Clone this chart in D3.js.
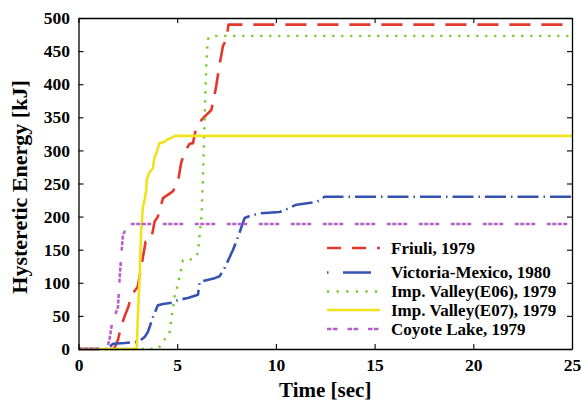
<!DOCTYPE html>
<html>
<head>
<meta charset="utf-8">
<script src="https://cdn.jsdelivr.net/npm/d3@7"></script>
<style>
  html, body { margin: 0; padding: 0; background: #fff; }
  svg { display: block; }
</style>
</head>
<body>
<svg id="chart" width="582" height="403"></svg>
<script>
// Cumulative hysteretic energy histories (time in s, energy in kJ)
const seriesNames = [
  "Friuli, 1979",
  "Victoria-Mexico, 1980",
  "Imp. Valley(E06), 1979",
  "Imp. Valley(E07), 1979",
  "Coyote Lake, 1979"
];

const friuliT = [0, 1.8, 2.0, 2.16, 2.33, 2.53, 2.67, 3.0, 3.09, 3.4, 3.68, 3.85, 4.02, 4.28, 4.78, 5.04, 5.2, 5.38, 5.63, 5.8, 5.96, 6.14, 6.39, 6.73, 6.9, 6.98, 7.15, 7.32, 7.49, 7.6, 25];
const friuliE = [0, 0, 14, 34, 49, 64, 81, 94, 109, 162, 165, 192, 200, 228, 238, 253, 281, 298, 310, 311, 334, 343, 351, 361, 385, 398, 430, 458, 467, 490, 490];

const victoriaT = [0, 1.45, 1.75, 2.35, 3.05, 3.35, 3.52, 3.6, 3.77, 3.85, 4.02, 4.28, 4.78, 5.04, 5.54, 6.05, 6.14, 6.47, 6.9, 7.15, 7.4, 7.66, 7.83, 8.08, 8.25, 8.42, 8.67, 9.18, 10.19, 10.45, 11.04, 12.05, 12.47, 25];
const victoriaE = [0, 0, 8, 9, 11, 18, 26, 33, 48, 54, 66, 68, 70, 74, 77, 82, 101, 104, 107, 110, 122, 139, 150, 169, 184, 198, 201, 205, 207, 210, 218, 222, 230, 230];

const e06T = [0, 4.0, 4.1, 4.44, 4.61, 4.74, 4.87, 5.12, 5.29, 5.54, 5.88, 6.05, 6.14, 6.22, 6.3, 6.39, 6.47, 6.55, 6.75, 25];
const e06E = [0, 0, 3, 18, 24, 54, 79, 109, 134, 134, 137, 145, 175, 195, 255, 350, 426, 468, 473, 473];

const e07T = [0, 2.95, 3.0, 3.09, 3.17, 3.26, 3.35, 3.43, 3.46, 3.57, 3.77, 3.85, 3.97, 4.1, 4.36, 4.48, 4.78, 4.9, 25];
const e07E = [0, 0, 44, 104, 175, 214, 225, 240, 255, 266, 273, 290, 298, 311, 313, 316, 320, 322, 322];

const coyoteT = [0, 1.4, 1.49, 1.57, 1.7, 2.0, 2.08, 2.16, 2.25, 2.33, 2.41, 25];
const coyoteE = [0, 0, 6, 14, 39, 63, 104, 139, 172, 177, 189, 189];

const xTicks = [0, 5, 10, 15, 20, 25];
const yTicks = [0, 50, 100, 150, 200, 250, 300, 350, 400, 450, 500];

// Line styles per series (plot dashes and the shorter legend sample dashes)
const styles = [
  { color: "#e5382c", width: 2.6, dash: "21,11", legendDash: "14,11" },
  { color: "#3552b2", width: 2.6, dash: "21,5,1.5,5", legendDash: "1.5,14.5,28,20" },
  { color: "#6dcc24", width: 2.4, dash: "2.2,6.8", legendDash: "2.2,7.4" },
  { color: "#f0e21c", width: 2.6, dash: null, legendDash: null },
  { color: "#b85ccb", width: 2.5, dash: "4,1.5,4,1.5,4,1.5,4,11.5", legendDash: "4.5,1.5,4.5,10" }
];

const series = [
  [friuliT, friuliE],
  [victoriaT, victoriaE],
  [e06T, e06E],
  [e07T, e07E],
  [coyoteT, coyoteE]
].map(([t, e], i) => ({ name: seriesNames[i], points: t.map((v, j) => [v, e[j]]), style: styles[i] }));

const FONT = '"Liberation Serif", Tinos, "Times New Roman"';
function serifBold(sel, size) {
  sel.style("font-family", FONT).style("font-weight", "bold").style("font-size", size + "px").attr("fill", "#000");
}

const svg = d3.select("#chart");
const plotLeft = 78.5, plotRight = 572, plotTop = 18, plotBottom = 349;

const x = d3.scaleLinear().domain([0, 25]).range([plotLeft, plotRight]);
const y = d3.scaleLinear().domain([0, 500]).range([plotBottom, plotTop]);

const line = d3.line().x(d => x(d[0])).y(d => y(d[1]));

// Data lines
const plot = svg.append("g");
series.forEach(s => {
  plot.append("path")
    .datum(s.points)
    .attr("d", line)
    .attr("fill", "none")
    .attr("stroke", s.style.color)
    .attr("stroke-width", s.style.width)
    .attr("stroke-dasharray", s.style.dash)
    .attr("stroke-linejoin", "round");
});

// Axes with inward ticks on all four sides
const tickLen = 5;
function styleAxis(g) {
  g.select(".domain").attr("stroke", "#000").attr("stroke-width", 1.3);
  g.selectAll(".tick line").attr("stroke", "#000").attr("stroke-width", 1.1);
  g.selectAll(".tick text").call(serifBold, 17.5);
}

svg.append("g").attr("transform", `translate(0,${plotBottom})`)
  .call(d3.axisBottom(x).tickValues(xTicks).tickFormat(d3.format("d")).tickSizeInner(-tickLen).tickSizeOuter(0).tickPadding(10))
  .call(styleAxis);
svg.append("g").attr("transform", `translate(0,${plotTop})`)
  .call(d3.axisTop(x).tickValues(xTicks).tickFormat("").tickSizeInner(-tickLen).tickSizeOuter(0))
  .call(styleAxis);
svg.append("g").attr("transform", `translate(${plotLeft},0)`)
  .call(d3.axisLeft(y).tickValues(yTicks).tickFormat(d3.format("d")).tickSizeInner(-tickLen).tickSizeOuter(0).tickPadding(8.5))
  .call(styleAxis);
svg.append("g").attr("transform", `translate(${plotRight},0)`)
  .call(d3.axisRight(y).tickValues(yTicks).tickFormat("").tickSizeInner(-tickLen).tickSizeOuter(0))
  .call(styleAxis);

// Axis titles
svg.append("text")
  .attr("x", (plotLeft + plotRight) / 2)
  .attr("y", 396.5)
  .attr("text-anchor", "middle")
  .call(serifBold, 21)
  .text("Time [sec]");
svg.append("text")
  .attr("transform", "translate(26.5,187) rotate(-90)")
  .attr("text-anchor", "middle")
  .call(serifBold, 22)
  .text("Hysteretic Energy [kJ]");

// Legend
const legendRows = [248, 272.5, 291.5, 310, 329];
const legend = svg.append("g");
series.forEach((s, i) => {
  const yy = legendRows[i];
  legend.append("line")
    .attr("x1", 327).attr("x2", 380)
    .attr("y1", yy).attr("y2", yy)
    .attr("stroke", s.style.color)
    .attr("stroke-width", s.style.width)
    .attr("stroke-dasharray", s.style.legendDash);
  legend.append("text")
    .attr("x", 391)
    .attr("y", yy)
    .attr("dy", "0.35em")
    .call(serifBold, 17)
    .text(s.name);
});
</script>
</body>
</html>
